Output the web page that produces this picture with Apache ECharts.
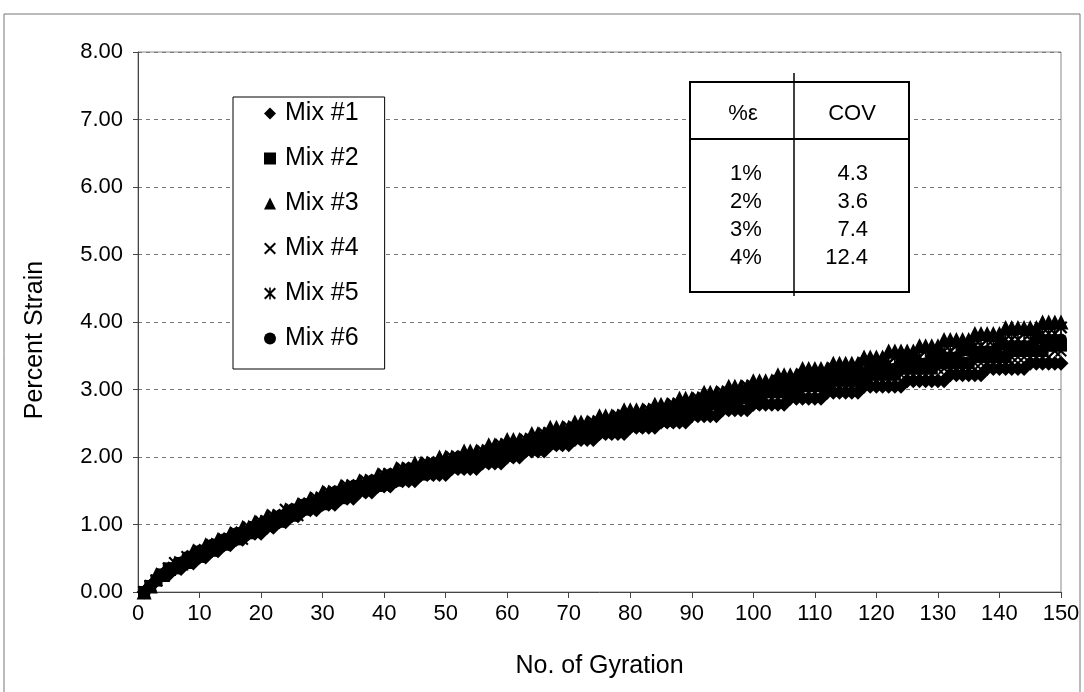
<!DOCTYPE html>
<html><head><meta charset="utf-8">
<script src="https://cdn.jsdelivr.net/npm/echarts/dist/echarts.min.js"></script>
<style>html,body{margin:0;padding:0;background:#fff}#c{width:1084px;height:692px}</style>
</head><body><div id="c"></div>
<script>
const gyration = [1,2,3,4,5,6,7,8,9,10,11,12,13,14,15,16,17,18,19,20,21,22,23,24,25,26,27,28,29,30,31,32,33,34,35,36,37,38,39,40,41,42,43,44,45,46,47,48,49,50,51,52,53,54,55,56,57,58,59,60,61,62,63,64,65,66,67,68,69,70,71,72,73,74,75,76,77,78,79,80,81,82,83,84,85,86,87,88,89,90,91,92,93,94,95,96,97,98,99,100,101,102,103,104,105,106,107,108,109,110,111,112,113,114,115,116,117,118,119,120,121,122,123,124,125,126,127,128,129,130,131,132,133,134,135,136,137,138,139,140,141,142,143,144,145,146,147,148,149,150];

const mix1 = [0,0.09,0.17,0.26,0.26,0.35,0.35,0.43,0.43,0.52,
0.52,0.61,0.61,0.70,0.70,0.78,0.78,0.87,0.87,0.87,
0.96,0.96,1.04,1.04,1.13,1.13,1.22,1.22,1.22,1.30,
1.30,1.30,1.39,1.39,1.39,1.48,1.48,1.48,1.57,1.57,
1.57,1.65,1.65,1.65,1.65,1.74,1.74,1.74,1.74,1.74,
1.83,1.83,1.83,1.83,1.83,1.91,1.91,1.91,1.91,2.00,
2.00,2.00,2.09,2.09,2.09,2.09,2.18,2.18,2.18,2.18,
2.26,2.26,2.26,2.26,2.35,2.35,2.35,2.35,2.35,2.44,
2.44,2.44,2.44,2.44,2.52,2.52,2.52,2.52,2.52,2.61,
2.61,2.61,2.61,2.61,2.70,2.70,2.70,2.70,2.70,2.78,
2.78,2.78,2.78,2.78,2.78,2.87,2.87,2.87,2.87,2.87,
2.87,2.96,2.96,2.96,2.96,2.96,2.96,3.05,3.05,3.05,
3.05,3.05,3.05,3.05,3.13,3.13,3.13,3.13,3.13,3.13,
3.13,3.22,3.22,3.22,3.22,3.22,3.22,3.31,3.31,3.31,
3.31,3.31,3.31,3.31,3.39,3.39,3.39,3.39,3.39,3.39];

const mix2 = [0,0.09,0.17,0.26,0.35,0.35,0.43,0.43,0.52,0.52,
0.61,0.61,0.70,0.70,0.78,0.78,0.87,0.87,0.96,0.96,
1.04,1.04,1.04,1.13,1.13,1.22,1.22,1.30,1.30,1.30,
1.39,1.39,1.39,1.48,1.48,1.57,1.57,1.57,1.57,1.65,
1.65,1.65,1.74,1.74,1.74,1.74,1.83,1.83,1.83,1.83,
1.91,1.91,1.91,1.91,1.91,2.00,2.00,2.00,2.09,2.09,
2.09,2.09,2.18,2.18,2.18,2.18,2.26,2.26,2.26,2.35,
2.35,2.35,2.35,2.44,2.44,2.44,2.44,2.44,2.52,2.52,
2.52,2.52,2.52,2.61,2.61,2.61,2.61,2.61,2.70,2.70,
2.70,2.70,2.78,2.78,2.78,2.78,2.78,2.87,2.87,2.87,
2.87,2.96,2.96,2.96,2.96,2.96,2.96,3.05,3.05,3.05,
3.05,3.05,3.13,3.13,3.13,3.13,3.13,3.13,3.22,3.22,
3.22,3.22,3.22,3.31,3.31,3.31,3.31,3.31,3.31,3.39,
3.39,3.39,3.39,3.39,3.39,3.48,3.48,3.48,3.48,3.48,
3.48,3.57,3.57,3.57,3.57,3.57,3.57,3.65,3.65,3.65];

const mix3 = [0,0.09,0.26,0.26,0.35,0.43,0.43,0.52,0.61,0.61,
0.70,0.70,0.78,0.78,0.87,0.87,0.96,0.96,1.04,1.04,
1.13,1.13,1.13,1.22,1.22,1.30,1.30,1.39,1.39,1.48,
1.48,1.48,1.57,1.57,1.57,1.65,1.65,1.65,1.74,1.74,
1.74,1.83,1.83,1.83,1.91,1.91,1.91,1.91,2.00,2.00,
2.00,2.00,2.09,2.09,2.09,2.09,2.18,2.18,2.18,2.26,
2.26,2.26,2.26,2.35,2.35,2.35,2.44,2.44,2.44,2.44,
2.52,2.52,2.52,2.52,2.61,2.61,2.61,2.61,2.70,2.70,
2.70,2.70,2.70,2.78,2.78,2.78,2.78,2.87,2.87,2.87,
2.87,2.96,2.96,2.96,2.96,3.05,3.05,3.05,3.05,3.13,
3.13,3.13,3.13,3.22,3.22,3.22,3.22,3.31,3.31,3.31,
3.31,3.31,3.39,3.39,3.39,3.39,3.39,3.48,3.48,3.48,
3.48,3.57,3.57,3.57,3.57,3.57,3.65,3.65,3.65,3.65,
3.74,3.74,3.74,3.74,3.74,3.83,3.83,3.83,3.83,3.83,
3.92,3.92,3.92,3.92,3.92,3.92,4.00,4.00,4.00,4.00];

const mix4 = [0,0.09,0.17,0.26,0.35,0.35,0.43,0.43,0.52,0.52,
0.61,0.61,0.70,0.70,0.78,0.78,0.78,0.87,0.87,0.96,
0.96,1.04,1.04,1.13,1.13,1.13,1.22,1.22,1.30,1.30,
1.30,1.39,1.39,1.48,1.48,1.48,1.57,1.57,1.57,1.57,
1.65,1.65,1.65,1.74,1.74,1.74,1.74,1.74,1.83,1.83,
1.83,1.83,1.91,1.91,1.91,1.91,2.00,2.00,2.00,2.00,
2.09,2.09,2.09,2.09,2.18,2.18,2.18,2.18,2.26,2.26,
2.26,2.35,2.35,2.35,2.35,2.35,2.44,2.44,2.44,2.44,
2.44,2.52,2.52,2.52,2.52,2.52,2.61,2.61,2.61,2.61,
2.70,2.70,2.70,2.70,2.70,2.78,2.78,2.78,2.78,2.78,
2.87,2.87,2.87,2.87,2.87,2.96,2.96,2.96,2.96,2.96,
2.96,3.05,3.05,3.05,3.05,3.05,3.05,3.13,3.13,3.13,
3.13,3.13,3.13,3.22,3.22,3.22,3.22,3.22,3.22,3.31,
3.31,3.31,3.31,3.31,3.31,3.39,3.39,3.39,3.39,3.39,
3.39,3.48,3.48,3.48,3.48,3.48,3.48,3.48,3.57,3.57];

const mix5 = [0,0.09,0.17,0.26,0.35,0.43,0.43,0.52,0.52,0.61,
0.61,0.70,0.70,0.78,0.78,0.87,0.87,0.96,0.96,1.04,
1.04,1.13,1.13,1.22,1.22,1.22,1.30,1.30,1.39,1.39,
1.48,1.48,1.48,1.57,1.57,1.57,1.65,1.65,1.65,1.74,
1.74,1.74,1.83,1.83,1.83,1.83,1.91,1.91,1.91,1.91,
2.00,2.00,2.00,2.00,2.00,2.09,2.09,2.09,2.18,2.18,
2.18,2.18,2.26,2.26,2.26,2.35,2.35,2.35,2.35,2.44,
2.44,2.44,2.44,2.52,2.52,2.52,2.52,2.61,2.61,2.61,
2.61,2.61,2.70,2.70,2.70,2.70,2.78,2.78,2.78,2.78,
2.87,2.87,2.87,2.87,2.96,2.96,2.96,2.96,3.05,3.05,
3.05,3.05,3.05,3.13,3.13,3.13,3.13,3.22,3.22,3.22,
3.22,3.22,3.31,3.31,3.31,3.31,3.31,3.39,3.39,3.39,
3.39,3.39,3.48,3.48,3.48,3.48,3.48,3.57,3.57,3.57,
3.57,3.57,3.65,3.65,3.65,3.65,3.65,3.74,3.74,3.74,
3.74,3.74,3.74,3.83,3.83,3.83,3.83,3.83,3.83,3.92];

const mix6 = [0,0.09,0.17,0.26,0.35,0.35,0.43,0.52,0.52,0.61,
0.61,0.70,0.70,0.78,0.78,0.87,0.87,0.87,0.96,0.96,
1.04,1.04,1.13,1.13,1.22,1.22,1.30,1.30,1.30,1.39,
1.39,1.48,1.48,1.48,1.57,1.57,1.57,1.65,1.65,1.65,
1.74,1.74,1.74,1.74,1.83,1.83,1.83,1.83,1.91,1.91,
1.91,1.91,2.00,2.00,2.00,2.00,2.09,2.09,2.09,2.09,
2.18,2.18,2.18,2.18,2.26,2.26,2.26,2.35,2.35,2.35,
2.35,2.44,2.44,2.44,2.44,2.52,2.52,2.52,2.52,2.52,
2.61,2.61,2.61,2.61,2.61,2.70,2.70,2.70,2.70,2.78,
2.78,2.78,2.78,2.87,2.87,2.87,2.87,2.96,2.96,2.96,
2.96,2.96,3.05,3.05,3.05,3.05,3.05,3.13,3.13,3.13,
3.13,3.13,3.22,3.22,3.22,3.22,3.22,3.22,3.31,3.31,
3.31,3.31,3.31,3.39,3.39,3.39,3.39,3.39,3.48,3.48,
3.48,3.48,3.48,3.57,3.57,3.57,3.57,3.57,3.57,3.65,
3.65,3.65,3.65,3.65,3.65,3.74,3.74,3.74,3.74,3.74];

const seriesNames = ['Mix #1','Mix #2','Mix #3','Mix #4','Mix #5','Mix #6'];
const seriesValues = [mix1, mix2, mix3, mix4, mix5, mix6];
const tableHead = ['%\u03b5', 'COV'];
const strainLevels = ['1%', '2%', '3%', '4%'];
const covValues = ['4.3', '3.6', '7.4', '12.4'];
const yMin = 0, yMax = 8, yStep = 1;
const xMin = 0, xMax = 150, xStep = 10;

const FONT = "'Liberation Sans', Arial, sans-serif";
const crossPath = 'path://M0,1.2L1.2,0L5,3.8L8.8,0L10,1.2L6.2,5L10,8.8L8.8,10L5,6.2L1.2,10L0,8.8L3.8,5Z';
const starPath = 'path://M0,1.2L1.2,0L5,3.8L8.8,0L10,1.2L6.2,5L10,8.8L8.8,10L5,6.2L1.2,10L0,8.8L3.8,5ZM4.35,0L5.65,0L5.65,10L4.35,10Z';
const symbols = ['diamond', 'rect', 'triangle', crossPath, starPath, 'circle'];
const sizes = [15, 12, 15, 12, 13, 12];

const chart = echarts.init(document.getElementById('c'), null, {renderer: 'canvas'});

const series = seriesNames.map((name, i) => ({
  name: name,
  type: 'scatter',
  symbol: symbols[i],
  symbolSize: sizes[i],
  itemStyle: {color: '#000', opacity: 1},
  emphasis: {disabled: true},
  animation: false,
  data: gyration.map((g, j) => [g, seriesValues[i][j]])
}));

const tbl = [];
tbl.push({type: 'rect', shape: {x: 690, y: 82, width: 219, height: 210}, style: {fill: '#fff', stroke: '#000', lineWidth: 2}, z: 100});
tbl.push({type: 'line', shape: {x1: 690, y1: 139, x2: 909, y2: 139}, style: {stroke: '#000', lineWidth: 2}, z: 101});
tbl.push({type: 'line', shape: {x1: 794, y1: 73, x2: 794, y2: 296}, style: {stroke: '#000', lineWidth: 1.5}, z: 101});
tbl.push({type: 'text', x: 743, y: 114, style: {text: tableHead[0], fontSize: 22, fontFamily: FONT, fill: '#000', align: 'center', verticalAlign: 'middle'}, z: 102});
tbl.push({type: 'text', x: 852, y: 114, style: {text: tableHead[1], fontSize: 22, fontFamily: FONT, fill: '#000', align: 'center', verticalAlign: 'middle'}, z: 102});
strainLevels.forEach((s, i) => {
  tbl.push({type: 'text', x: 746, y: 174 + i * 28, style: {text: s, fontSize: 22, fontFamily: FONT, fill: '#000', align: 'center', verticalAlign: 'middle'}, z: 102});
  tbl.push({type: 'text', x: 868, y: 174 + i * 28, style: {text: covValues[i], fontSize: 22, fontFamily: FONT, fill: '#000', align: 'right', verticalAlign: 'middle'}, z: 102});
});

const option = {
  backgroundColor: '#fff',
  animation: false,
  textStyle: {fontFamily: FONT},
  grid: {left: 138, right: 23, top: 52, bottom: 100, show: true, borderColor: '#888', borderWidth: 1, backgroundColor: 'transparent'},
  xAxis: {
    type: 'value', min: xMin, max: xMax, interval: xStep,
    name: 'No. of Gyration', nameLocation: 'middle', nameGap: 62,
    nameTextStyle: {fontSize: 25, color: '#000', fontFamily: FONT},
    axisLine: {show: true, onZero: false, lineStyle: {color: '#444', width: 1}},
    axisTick: {show: true, length: 6, lineStyle: {color: '#444'}},
    axisLabel: {fontSize: 22, color: '#000', margin: 11, fontFamily: FONT},
    splitLine: {show: false}
  },
  yAxis: {
    type: 'value', min: yMin, max: yMax, interval: yStep,
    axisLine: {show: true, lineStyle: {color: '#444', width: 1}},
    axisTick: {show: true, length: 5, lineStyle: {color: '#444'}},
    axisLabel: {fontSize: 22, color: '#000', margin: 15, fontFamily: FONT, formatter: v => v.toFixed(2)},
    splitLine: {show: true, lineStyle: {color: '#777', width: 1, type: [4, 4]}}
  },
  legend: {
    orient: 'vertical', left: 233, top: 97,
    padding: [4, 26, 18, 31],
    itemGap: 20, itemWidth: 12, itemHeight: 12,
    borderColor: '#000', borderWidth: 1, backgroundColor: '#fff',
    textStyle: {fontSize: 25, color: '#000', fontFamily: FONT, padding: [0, 0, 0, 4]},
    selectedMode: false,
    data: seriesNames.map((n, i) => ({name: n, icon: symbols[i], itemStyle: {color: '#000'}}))
  },
  graphic: [
    {type: 'rect', shape: {x: 4, y: 14, width: 1076, height: 700}, style: {fill: 'none', stroke: '#777', lineWidth: 1}, z: -10, silent: true},
    {type: 'text', x: 35, y: 340, rotation: Math.PI / 2, style: {text: 'Percent Strain', fontSize: 25, fontFamily: FONT, fill: '#000', align: 'center', verticalAlign: 'middle'}},
    ...tbl
  ],
  series: series
};
chart.setOption(option);
</script></body></html>
